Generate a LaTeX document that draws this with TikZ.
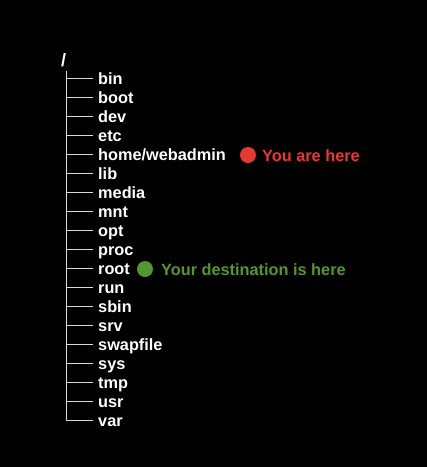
\documentclass[tikz,border=0pt]{standalone}
\usepackage{fontspec}
\setmainfont{Liberation Sans}
\definecolor{herered}{RGB}{229,57,53}
\definecolor{destgreen}{RGB}{84,150,48}
\definecolor{treegray}{RGB}{215,215,215}
\tikzset{
  dirname/.style={anchor=base west, inner sep=0pt, text=white,
    font=\bfseries\fontsize{16.3}{19}\selectfont},
  treeline/.style={treegray, line width=0.9pt},
  marker/.style={circle, inner sep=0pt, minimum size=16pt},
}
\begin{document}
\begin{tikzpicture}[x=1pt,y=-1pt]
  \fill[black] (0,0) rectangle (427,467);
  \useasboundingbox (0,0) rectangle (427,467);

  \node[dirname, font=\bfseries\fontsize{18}{19}\selectfont] (slash) at (61,66.5) {/};
  \coordinate (top) at (66,71);

  \foreach \name [count=\i] in {bin,boot,dev,etc,home/webadmin,lib,media,mnt,opt,proc,root,run,sbin,srv,swapfile,sys,tmp,usr,var} {
    \coordinate (b\i) at (66,{59+19*\i});
    \node[dirname] (d\i) at (98,{65.3+19*\i}) {\name};
    \draw[treeline, shorten >=5pt] (b\i) -- (b\i -| d\i.west);
  }
  \draw[treeline] (top) -- (b19);

  % you are here
  \node[marker, fill=herered] (here) at (248,155) {};
  \node[dirname, text=herered] (heretext) at (262,161.3) {You are here};

  % destination
  \node[marker, fill=destgreen] (dest) at (145,269) {};
  \node[dirname, text=destgreen] (desttext) at (161,275.3) {Your destination is here};
\end{tikzpicture}
\end{document}
